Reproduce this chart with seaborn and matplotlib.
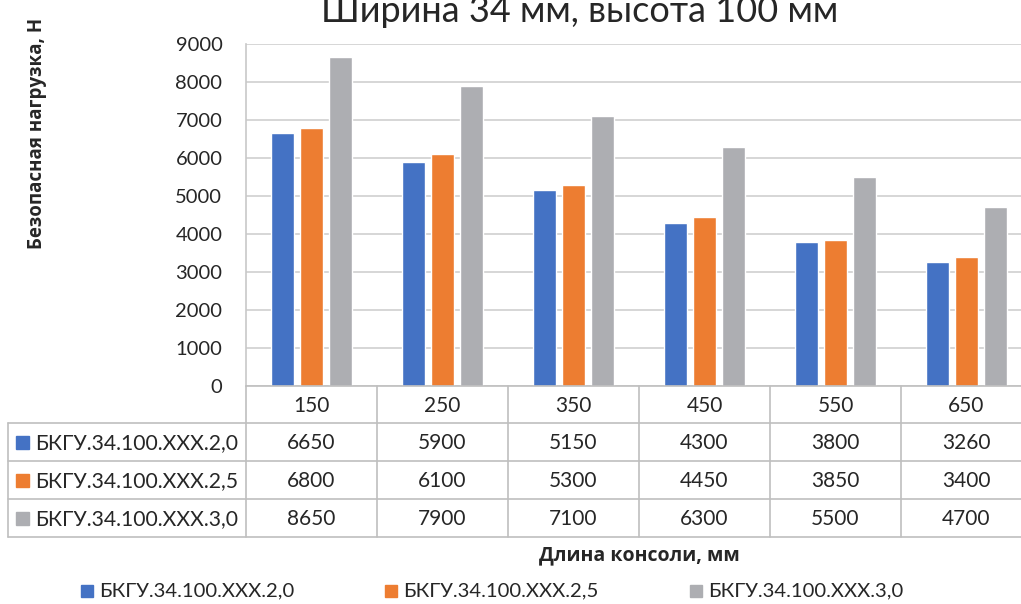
import numpy as np
import pandas as pd
import matplotlib
matplotlib.use("Agg")
import matplotlib.pyplot as plt
import seaborn as sns
from matplotlib.patches import Rectangle

categories = ["150", "250", "350", "450", "550", "650"]
series_names = ["БКГУ.34.100.XXX.2,0", "БКГУ.34.100.XXX.2,5", "БКГУ.34.100.XXX.3,0"]
s20 = [6650, 5900, 5150, 4300, 3800, 3260]
s25 = [6800, 6100, 5300, 4450, 3850, 3400]
s30 = [8650, 7900, 7100, 6300, 5500, 4700]
yticks = [0, 1000, 2000, 3000, 4000, 5000, 6000, 7000, 8000, 9000]
title = "Ширина 34 мм, высота 100 мм"
ylabel = "Безопасная нагрузка, Н"
xlabel = "Длина консоли, мм"
colors = ["#4472C4", "#ED7D31", "#ADAEB2"]

sns.set_theme(style="white")
plt.rcParams["font.family"] = ["Lato", "DejaVu Sans"]
bold_family = ["Open Sans", "DejaVu Sans"]

W, H = 1021, 604
fig = plt.figure(figsize=(W / 100, H / 100), dpi=100)


def fx(x):
    return x / W


def fy(y):
    return 1 - y / H


left, right, top, bottom = 246, 1032, 44, 386
ax = fig.add_axes([fx(left), fy(bottom), fx(right - left), (bottom - top) / H])

series_values = [s20, s25, s30]
df = pd.DataFrame({
    "cat": np.repeat([categories], 3, axis=0).ravel(),
    "series": np.repeat(series_names, len(categories)),
    "value": np.concatenate(series_values),
})
sns.barplot(data=df, x="cat", y="value", hue="series", order=categories,
            hue_order=series_names, palette=colors, width=0.665, gap=0.23,
            ax=ax, legend=False, saturation=1)
ax.set_ylim(0, 9000)
ax.set_xlim(-0.5, len(categories) - 0.5)
ax.set_yticks(yticks)
ax.set_yticklabels([str(t) for t in yticks], fontsize=14.5, color="#262626")
ax.set_xticks([])
ax.set_xlabel("")
ax.set_ylabel("")
ax.tick_params(axis="y", length=0, pad=17)
ax.yaxis.grid(True, color="#D0D0D0", linewidth=1.2)
ax.set_axisbelow(True)
for sp in ["top", "right", "bottom"]:
    ax.spines[sp].set_visible(False)
ax.spines["left"].set_color("#C8C8C8")
ax.spines["left"].set_linewidth(1.2)

# Data table
tax = fig.add_axes([0, 0, 1, 1], facecolor="none")
tax.set_xlim(0, W)
tax.set_ylim(H, 0)
tax.axis("off")
lc = "#BFBFBF"
row_y = [386, 423, 461, 499, 537]
col_x = [left + i * (right - left) / len(categories) for i in range(len(categories) + 1)]
tax.plot([left, right], [row_y[0], row_y[0]], color=lc, lw=1.2)
for yy in row_y[1:]:
    tax.plot([8, right], [yy, yy], color=lc, lw=1.2)
tax.plot([8, 8], [row_y[1], row_y[-1]], color=lc, lw=1.2)
for xx in col_x:
    tax.plot([xx, xx], [row_y[0], row_y[-1]], color=lc, lw=1.2)
txt_color = "#262626"
for i, c in enumerate(categories):
    cx = (col_x[i] + col_x[i + 1]) / 2
    tax.text(cx, (row_y[0] + row_y[1]) / 2 + 1, c, ha="center", va="center",
             fontsize=15, color=txt_color)
for r, (name, vals) in enumerate(zip(series_names, series_values)):
    cy = (row_y[r + 1] + row_y[r + 2]) / 2 + 1
    tax.add_patch(Rectangle((16, cy - 7), 13, 13, color=colors[r]))
    tax.text(35, cy, name, ha="left", va="center", fontsize=15.2, color=txt_color)
    for i, v in enumerate(vals):
        cx = (col_x[i] + col_x[i + 1]) / 2
        tax.text(cx, cy, str(v), ha="center", va="center", fontsize=15,
                 color=txt_color)

# Titles
fig.text(fx(580), fy(12), title, ha="center", va="center", fontsize=26,
         color="#262626")
fig.text(fx(37), fy(133), ylabel, ha="center", va="center", rotation=90,
         fontsize=13.5, fontweight="bold", color="#262626", family=bold_family)
fig.text(fx(639), fy(555), xlabel, ha="center", va="center", fontsize=14,
         fontweight="bold", color="#262626", family=bold_family)

# Legend
leg_x = [81, 385, 690]
for k, (name, xx) in enumerate(zip(series_names, leg_x)):
    tax.add_patch(Rectangle((xx, 585), 12, 12, color=colors[k]))
    tax.text(xx + 18, 591, name, ha="left", va="center", fontsize=14.6,
             color=txt_color)

fig.savefig("out.png", dpi=100)
